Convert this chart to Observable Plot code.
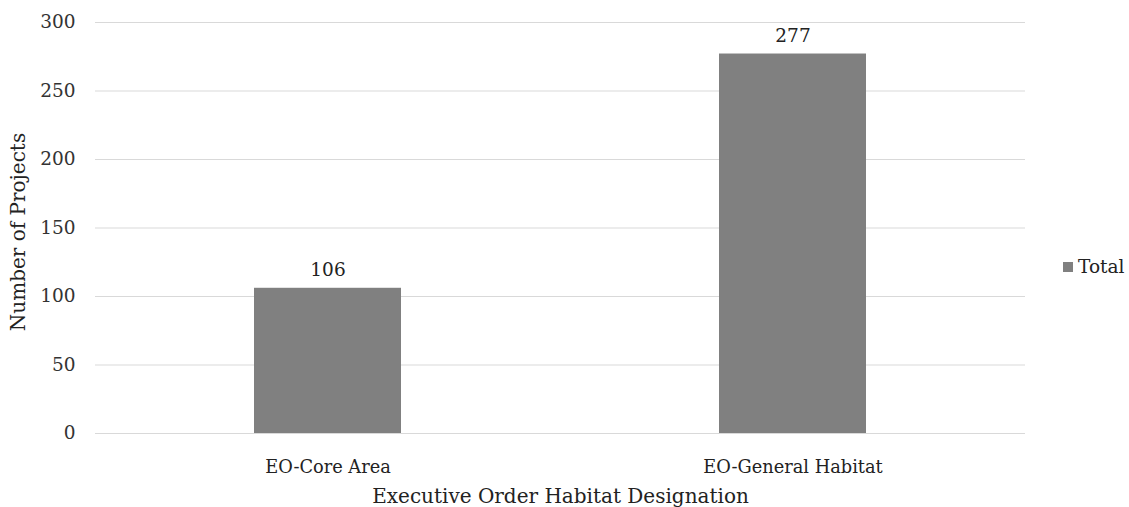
<!DOCTYPE html>
<html><head><meta charset="utf-8">
<script src="https://cdn.jsdelivr.net/npm/d3@7"></script>
<script src="https://cdn.jsdelivr.net/npm/@observablehq/plot@0.6"></script>
<style>
body{margin:0;background:#fff;}
#wrap{position:relative;width:1129px;height:507px;font-family:"DejaVu Serif",serif;}
#legend{position:absolute;left:1063px;top:256px;font-size:18.5px;color:#222;display:flex;align-items:center;white-space:nowrap;}
#legend span.sw{display:inline-block;width:10px;height:10px;background:#808080;margin-right:5px;}
</style></head>
<body><div id="wrap"><div id="legend"><span class="sw"></span>Total</div></div>
<script>
const categories = ["EO-Core Area", "EO-General Habitat"];
const totals = [106, 277];
const yTicks = [0, 50, 100, 150, 200, 250, 300];
const data = categories.map((c, i) => ({category: c, total: totals[i]}));

const chart = Plot.plot({
  width: 1129, height: 507,
  marginLeft: 95, marginRight: 104, marginTop: 22, marginBottom: 74,
  style: {fontFamily: '"DejaVu Serif", serif', fontSize: "18px", color: "#333", background: "#fff"},
  x: {domain: categories, padding: 0, label: null},
  y: {domain: [0, 300], ticks: yTicks, label: null},
  marks: [
    Plot.ruleY(yTicks, {stroke: "#d9d9d9", strokeWidth: 1.2}),
    Plot.barY(data, {x: "category", y: "total", fill: "#808080", insetLeft: 159, insetRight: 159}),
    Plot.text(data, {x: "category", y: "total", text: d => String(d.total), dy: -18, fontSize: 18.5, fill: "#222"}),
    Plot.axisY({ticks: yTicks, tickSize: 0, tickPadding: 20, fontSize: 18.5, label: null, fill: "#333"}),
    Plot.axisX({tickSize: 0, tickPadding: 27, fontSize: 17.8, label: null, fill: "#222"}),
    Plot.text(["Executive Order Habitat Designation"], {frameAnchor: "bottom", dy: 69, fontSize: 20, fill: "#222"}),
    Plot.text(["Number of Projects"], {frameAnchor: "left", textAnchor: "middle", dx: -77, dy: 4, rotate: -90, fontSize: 20, fill: "#222"})
  ]
});
document.getElementById("wrap").prepend(chart);
chart.style.position = "absolute"; chart.style.left = "0"; chart.style.top = "0";
</script></body></html>
